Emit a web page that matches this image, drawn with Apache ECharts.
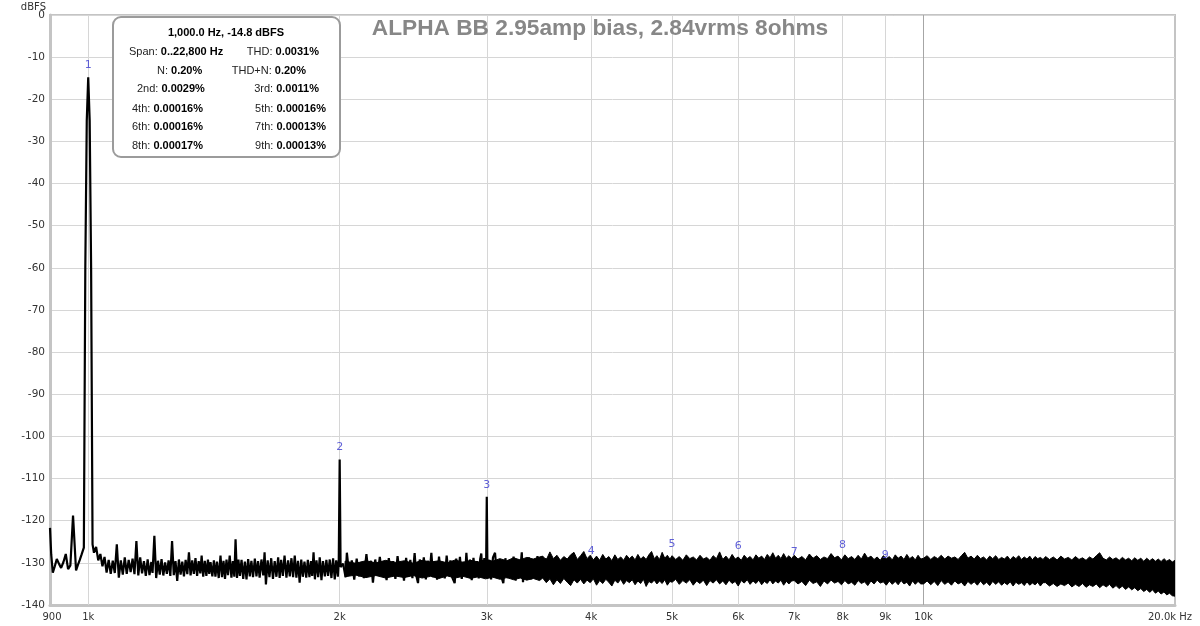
<!DOCTYPE html>
<html><head><meta charset="utf-8">
<script src="https://cdn.jsdelivr.net/npm/echarts@6/dist/echarts.min.js"></script>
<style>html,body{margin:0;padding:0;background:#fff}#c{width:1200px;height:626px}</style>
</head><body><div id="c"></div>
<script>
// ---------- DATA ----------
const chartTitle = 'ALPHA BB 2.95amp bias, 2.84vrms 8ohms';
const yAxisName = 'dBFS';
const xTickHz = [900, 1000, 2000, 3000, 4000, 5000, 6000, 7000, 8000, 9000, 10000, 20000];
const xTickText = ['900', '1k', '2k', '3k', '4k', '5k', '6k', '7k', '8k', '9k', '10k', '20.0k Hz'];

// spectrum line, 900 Hz - 1 kHz peak
const hzA = [900,903,907,912,917,923,928,934,940,946,952,959,967,972,977,982,988,992,996,1000,1004,1008,1012];
const dbA = [-121.7,-128,-132.3,-130.8,-129.1,-130.3,-131.2,-129.8,-127.9,-131.5,-130.6,-118.8,-131.8,-130.5,-129.3,-128.0,-126.4,-60,-25,-14.8,-25,-60,-125.6];
// 1 kHz - 1.4 kHz
const hzB = [
1016,1022,1028,1034,1040,1046,1052,1058,1064,1070,
1076,1082,1088,1094,1100,1106,1112,1118,1124,1130,
1136,1142,1148,1154,1160,1166,1172,1178,1184,1190,
1194,1200,1206,1212,1218,1224,1230,1236,1242,1248,
1254,1260,1266,1272,1278,1284,1290,1296,1302,1308,
1314,1320,1326,1332,1338,1344,1350,1356,1362,1367,
1373,1379,1385,1391,1396,1401];
const dbB = [
-127.6,-126.2,-129.4,-127.9,-130.8,-128.6,-132.3,-129.3,-132.6,-129.5,
-132.4,-125.6,-133.5,-129.4,-132.8,-128.7,-132.6,-129.3,-132.2,-129.0,
-132.7,-124.8,-133.0,-128.7,-132.5,-129.6,-133.1,-129.2,-132.9,-129.8,
-132.4,-123.6,-133.6,-129.5,-132.8,-129.1,-133.0,-129.9,-132.6,-129.4,
-133.1,-124.8,-132.9,-129.6,-134.3,-129.2,-132.8,-129.7,-133.2,-129.3,
-132.7,-127.5,-133.0,-129.4,-132.6,-128.9,-133.1,-129.6,-132.5,-128.3,
-133.3,-129.5,-133.1,-129.2,-132.6,-129.8];
// 1.4 kHz - 2 kHz peak
const hzC = [
1408,1414,1420,1426,1433,1440,1446,1452,1458,1464,
1470,1477,1484,1490,1496,1501,1507,1513,1519,1526,
1533,1540,1547,1554,1561,1568,1575,1583,1590,1597,
1604,1612,1620,1626,1632,1640,1648,1656,1664,1672,
1680,1688,1695,1702,1710,1718,1727,1735,1743,1751,
1759,1767,1775,1783,1791,1799,1807,1815,1824,1832,
1840,1848,1854,1861,1868,1876,1885,1893,1902,1910,
1920,1928,1937,1946,1955,1964,1973,1981,1990,1995,
2000,2005];
const dbC = [
-133.2,-129.4,-133.3,-129.7,-133.6,-128.3,-133.4,-129.5,-133.8,-129.2,
-132.9,-128.3,-133.5,-129.6,-133.3,-124.4,-133.6,-129.2,-133.1,-129.3,
-133.8,-129.7,-133.9,-129.1,-133.2,-129.5,-133.4,-129.0,-133.2,-129.6,
-133.5,-129.2,-133.0,-127.5,-135.1,-129.4,-133.4,-128.9,-133.8,-129.6,
-133.3,-128.7,-133.6,-129.3,-133.1,-128.3,-133.5,-129.4,-133.2,-128.9,
-133.4,-128.3,-133.5,-129.5,-134.7,-129.2,-133.3,-129.7,-133.5,-129.3,
-133.4,-129.6,-133.1,-127.5,-133.9,-129.4,-133.4,-128.7,-134.1,-129.6,
-133.2,-129.3,-133.1,-129.2,-133.6,-128.9,-133.9,-129.4,-133.3,-129.3,
-105.5,-131.0];
// 2 kHz - 3.5 kHz (incl. 3 kHz peak)
const hzD = [
2019,2033,2040,2054,2068,2082,2096,2110,2124,2138,
2153,2166,2180,2192,2206,2220,2234,2248,2262,2276,
2290,2304,2318,2332,2346,2360,2374,2388,2402,2416,
2430,2444,2459,2470,2482,2494,2508,2522,2536,2550,
2562,2575,2588,2602,2616,2630,2644,2658,2672,2686,
2700,2714,2728,2746,2758,2772,2786,2800,2814,2826,
2836,2850,2864,2878,2892,2906,2920,2934,2946,2955,
2966,2980,2994,3000,3006,3020,3036,3052,3069,3086,
3102,3120,3140,3158,3176,3194,3212,3230,3248,3266,
3284,3304,3315,3334,3352,3370,3390,3410,3430,3450,
3470,3490,3510,3530];
const dbD = [
-130.2,-133.4,-127.6,-133.0,-129.4,-134.0,-129.0,-133.2,-129.8,-133.6,
-127.9,-132.8,-129.5,-134.7,-129.2,-133.1,-128.6,-132.9,-129.8,-134.1,
-128.9,-133.0,-129.6,-133.8,-128.4,-132.7,-129.9,-134.2,-128.8,-133.3,
-129.3,-133.6,-127.7,-133.0,-134.8,-129.2,-133.2,-128.7,-133.9,-129.5,
-132.8,-127.6,-133.4,-129.7,-134.0,-128.5,-133.1,-129.9,-133.7,-128.3,
-132.9,-129.4,-133.5,-134.8,-129.0,-133.2,-128.6,-133.8,-129.7,-133.0,
-127.6,-133.4,-129.2,-134.1,-128.8,-133.0,-129.6,-133.7,-129.1,-127.8,
-133.5,-128.9,-132.6,-114.3,-133.2,-129.3,-133.9,-128.7,-127.6,-133.4,
-129.5,-133.0,-134.8,-128.9,-133.6,-129.4,-133.1,-128.5,-134.2,-129.8,
-133.3,-127.5,-134.6,-129.1,-133.5,-128.7,-133.9,-129.6,-133.2,-128.4,
-134.0,-129.3,-133.6,-128.9];

// dense noise band (upper / lower envelope) from 2 kHz to 20 kHz
const bandHz = [
2030,2090,2150,2210,2270,2330,2390,2450,2510,2570,2630,2690,2750,2810,2870,2930,2990,3050,3110,3170,3230,3290,3350,3410,3470,
3500,3535,3570,3605,3640,3675,3710,3745,3780,3815,3850,3885,3920,3955,3990,4025,4060,4095,4130,4165,4200,4235,4270,4305,4340,4375,4410,4445,4480,4515,4550,4585,4620,4655,4690,4725,4760,4795,4830,4865,4900,4935,4970,
5000,5050,5100,5150,5200,5250,5300,5350,5400,5450,5500,5550,5600,5650,5700,5750,5800,5850,5900,5950,6000,6050,6100,6150,6200,6250,6300,6350,6400,6450,6500,6550,6600,6650,6700,6750,6800,6850,6900,6950,
7000,7075,7150,7225,7300,7375,7450,7525,7600,7675,7750,7825,7900,7975,8050,8125,8200,8275,8350,8425,8500,8575,8650,8725,8800,8875,8950,9025,9100,9175,9250,9325,9400,9475,9550,9625,9700,9775,9850,9925,
10000,10100,10200,10300,10400,10500,10600,10700,10800,10900,11000,11100,11200,11300,11400,11500,11600,11700,11800,11900,12000,12100,12200,12300,12400,12500,12600,12700,12800,12900,13000,13100,13200,13300,13400,13500,13600,13700,13800,13900,
14000,14150,14300,14450,14600,14750,14900,15050,15200,15350,15500,15650,15800,15950,16100,16250,16400,16550,16700,16850,17000,17150,17300,17450,17600,17750,17900,18050,18200,18350,18500,18650,18800,18950,19100,19250,19400,19550,19700,19850,20000];
const bandTop = [
-129.6,-130.1,-129.5,-130.0,-129.4,-129.9,-129.5,-130.1,-129.4,-129.8,-129.5,-130.0,-129.3,-129.9,-129.4,-129.8,-129.2,-129.6,-129.0,-129.5,-128.8,-129.3,-128.7,-129.1,-128.6,
-128.4,-129.3,-127.4,-129.0,-128.2,-129.4,-128.5,-129.1,-128.1,-127.5,-129.2,-128.3,-127.3,-129.0,-128.2,-129.3,-128.4,-129.4,-128.0,-129.1,-128.5,-129.5,-128.1,-129.2,-128.6,-129.4,-128.2,-129.0,-128.4,-129.3,-128.0,-129.1,-128.5,-129.2,-128.1,-127.3,-129.0,-128.3,-129.2,-127.5,-128.9,-128.2,-129.1,
-128.3,-129.2,-128.5,-129.4,-128.1,-129.0,-128.6,-129.3,-128.2,-129.1,-128.7,-129.4,-128.3,-129.0,-127.4,-129.2,-128.4,-129.3,-128.0,-129.1,-128.6,-129.4,-128.2,-129.0,-128.5,-129.3,-128.1,-128.9,-128.4,-129.2,-128.0,-128.8,-127.6,-128.9,-128.2,-129.0,-127.8,-128.9,-128.3,-129.0,
-128.2,-129.1,-128.5,-129.3,-127.9,-128.9,-128.3,-129.2,-128.6,-129.0,-127.8,-128.8,-128.4,-129.3,-128.1,-129.0,-128.5,-129.2,-128.2,-129.1,-127.7,-128.9,-128.4,-129.2,-128.6,-129.4,-128.3,-129.0,-128.5,-129.3,-128.1,-128.9,-128.4,-129.2,-128.0,-129.0,-128.5,-129.3,-128.2,-129.1,
-128.9,-128.3,-129.2,-128.5,-129.0,-128.2,-129.1,-128.4,-128.9,-128.6,-129.2,-128.3,-127.5,-128.9,-128.4,-129.1,-128.2,-129.0,-128.6,-129.3,-128.4,-129.0,-128.3,-129.2,-128.7,-129.1,-128.4,-129.3,-128.5,-129.0,-128.3,-129.2,-128.6,-129.1,-128.4,-129.3,-128.5,-129.0,-128.7,-129.2,
-128.5,-129.2,-128.6,-129.3,-128.4,-129.1,-128.7,-129.3,-128.5,-129.2,-128.8,-129.4,-128.6,-129.1,-128.3,-127.6,-128.9,-129.3,-128.6,-129.2,-128.8,-129.4,-128.7,-129.3,-128.9,-129.5,-128.8,-129.4,-128.9,-129.6,-128.9,-129.5,-129.0,-129.6,-129.1,-129.7,-129.0,-129.6,-129.2,-129.8,-129.4];
const bandBottom = [
-133.3,-132.9,-133.5,-133.0,-133.6,-133.1,-133.5,-133.0,-133.6,-133.2,-133.7,-133.1,-133.6,-133.2,-133.7,-133.3,-133.8,-133.4,-133.9,-133.5,-134.0,-133.6,-134.1,-133.7,-134.2,
-133.6,-134.7,-133.8,-135.2,-134.0,-134.9,-133.7,-134.6,-135.4,-134.0,-134.8,-133.9,-135.0,-134.1,-134.7,-133.8,-135.3,-134.2,-134.9,-133.9,-134.6,-135.5,-134.1,-134.8,-133.9,-135.1,-134.2,-134.7,-134.0,-135.2,-134.3,-134.9,-133.9,-135.6,-134.4,-134.8,-134.1,-135.0,-134.3,-134.9,-134.0,-135.3,-134.4,
-134.6,-133.9,-135.1,-134.2,-134.8,-134.0,-135.3,-134.3,-134.9,-134.1,-135.4,-134.2,-134.8,-134.0,-135.0,-134.3,-135.2,-134.1,-134.9,-134.4,-135.5,-134.2,-134.8,-134.0,-135.1,-134.3,-134.9,-134.1,-135.2,-134.4,-134.9,-134.0,-135.0,-134.3,-134.8,-134.1,-135.3,-134.4,-135.0,-134.3,
-134.2,-135.0,-134.4,-135.4,-134.1,-134.9,-134.5,-135.6,-134.3,-135.0,-134.1,-134.8,-134.4,-135.2,-134.2,-135.0,-134.6,-135.3,-134.2,-134.9,-134.5,-135.4,-134.3,-135.0,-134.1,-134.8,-134.5,-135.3,-134.3,-135.1,-134.4,-135.2,-134.2,-135.0,-134.6,-135.5,-134.3,-135.1,-134.4,-135.0,
-135.0,-134.3,-135.2,-134.4,-135.4,-134.2,-135.1,-134.5,-135.3,-134.3,-135.0,-134.6,-135.5,-134.4,-135.1,-134.5,-135.3,-134.3,-135.2,-134.6,-135.4,-134.4,-135.1,-134.5,-135.3,-134.7,-135.2,-134.5,-135.5,-134.6,-135.1,-134.7,-135.4,-134.5,-135.3,-134.8,-135.2,-134.6,-135.5,-134.7,
-134.7,-135.5,-134.9,-135.6,-135.0,-135.4,-134.8,-135.7,-135.1,-135.6,-134.9,-135.8,-135.2,-135.6,-135.0,-135.9,-135.2,-135.7,-135.1,-136.0,-135.4,-136.1,-135.5,-136.3,-135.7,-136.4,-135.9,-136.6,-136.1,-136.8,-136.3,-137.0,-136.4,-137.2,-136.7,-137.4,-136.9,-137.6,-137.2,-137.8,-137.9];

// harmonic markers
const harmonicHz = [1000, 2000, 3000, 4000, 5000, 6000, 7000, 8000, 9000];
const harmonicDb = [-14.8, -105.5, -114.3, -130.0, -128.4, -128.8, -130.2, -128.6, -131.0];
const harmonicLabel = ['1', '2', '3', '4', '5', '6', '7', '8', '9'];

// info box
const boxHeading = '1,000.0 Hz, -14.8 dBFS';
const boxLeftLabels = ['Span:', 'N:', '2nd:', '4th:', '6th:', '8th:'];
const boxLeftValues = ['0..22,800 Hz', '0.20%', '0.0029%', '0.00016%', '0.00016%', '0.00017%'];
const boxRightLabels = ['THD:', 'THD+N:', '3rd:', '5th:', '7th:', '9th:'];
const boxRightValues = ['0.0031%', '0.20%', '0.0011%', '0.00016%', '0.00013%', '0.00013%'];

// ---------- CHART ----------
const pairs = (h, d) => h.map((f, i) => [f, d[i]]);
const spectrum = [].concat(pairs(hzA, dbA), pairs(hzB, dbB), pairs(hzC, dbC), pairs(hzD, dbD));

const gridColor = '#d6d6d6';
const markData = xTickHz.map((f, i) => {
  const item = { xAxis: f, name: xTickText[i] };
  if (i === 0 || i === xTickHz.length - 1) {
    item.lineStyle = { color: 'rgba(0,0,0,0)' };
  } else if (f === 10000) {
    item.lineStyle = { color: '#a6a6a6' };
  }
  if (i === xTickHz.length - 1) item.label = { offset: [-5, 0] };
  if (i === 0) item.label = { offset: [2, 0] };
  return item;
});

const boxRowY = [52, 70.7, 89.3, 108.5, 127, 145.5];
const boxLeftX = [129, 157, 137, 132, 132, 132];
const boxRightX = [319, 306, 319, 326, 326, 326];
const boxFont = 'Liberation Sans';
const rich = {
  n: { fontFamily: boxFont, fontSize: 11, fill: '#222', color: '#222' },
  b: { fontFamily: boxFont, fontSize: 11, fontWeight: 'bold', fill: '#000', color: '#000' }
};
const graphic = [
  { type: 'text', x: 46, y: 7.5, z: 51,
    style: { text: yAxisName, font: '10px "DejaVu Sans"', fill: '#333', textAlign: 'right', textVerticalAlign: 'middle' } },
  { type: 'rect', x: 113, y: 17, z: 50, shape: { x: 0, y: 0, width: 227, height: 140, r: 8 },
    style: { fill: '#fff', stroke: '#9b9b9b', lineWidth: 2 } },
  { type: 'text', x: 226, y: 33, z: 51,
    style: { text: boxHeading, font: 'bold 11px "Liberation Sans"', fill: '#000', textAlign: 'center', textVerticalAlign: 'middle' } }
];
boxRowY.forEach((y, i) => {
  graphic.push({ type: 'text', x: boxLeftX[i], y: y, z: 51,
    style: { text: '{n|' + boxLeftLabels[i] + ' }{b|' + boxLeftValues[i] + '}', rich: rich, textAlign: 'left', textVerticalAlign: 'middle' } });
  graphic.push({ type: 'text', x: boxRightX[i], y: y, z: 51,
    style: { text: '{n|' + boxRightLabels[i] + ' }{b|' + boxRightValues[i] + '}', rich: rich, textAlign: 'right', textVerticalAlign: 'middle' } });
});

const chart = echarts.init(document.getElementById('c'), null, { renderer: 'canvas' });
chart.setOption({
  animation: false,
  backgroundColor: '#fff',
  title: {
    text: chartTitle, left: 'center', top: 17, padding: 0,
    textStyle: { fontSize: 22.7, fontWeight: 'bold', color: '#878787', fontFamily: 'Liberation Sans' }
  },
  grid: { left: 50, right: 25, top: 15, bottom: 21, show: true, borderColor: '#c4c4c4', borderWidth: 2, backgroundColor: '#fff' },
  xAxis: {
    type: 'log', logBase: 10, min: 900, max: 20000,
    axisLabel: { show: false }, axisTick: { show: false }, splitLine: { show: false },
    axisLine: { show: true, onZero: false, lineStyle: { color: '#c4c4c4', width: 3 } }
  },
  yAxis: {
    type: 'value', min: -140, max: 0, interval: 10,
    axisLabel: { color: '#333', fontSize: 10.5, fontFamily: 'DejaVu Sans', margin: 5 },
    axisTick: { show: false },
    axisLine: { show: true, onZero: false, lineStyle: { color: '#c4c4c4', width: 3 } },
    splitLine: { show: true, lineStyle: { color: gridColor, width: 1 } }
  },
  series: [
    {
      type: 'custom', coordinateSystem: 'cartesian2d', z: 3, silent: true, clip: true,
      data: [[bandHz[0], bandTop[0]]],
      renderItem: function (params, api) {
        const pts = [];
        for (let i = 0; i < bandHz.length; i++) pts.push(api.coord([bandHz[i], bandTop[i]]));
        for (let i = bandHz.length - 1; i >= 0; i--) pts.push(api.coord([bandHz[i], bandBottom[i]]));
        return { type: 'polygon', shape: { points: pts }, style: { fill: '#000', stroke: '#000', lineWidth: 1 } };
      }
    },
    {
      type: 'line', name: 'spectrum', data: spectrum, symbol: 'none', z: 4, clip: true, silent: true,
      lineStyle: { color: '#000', width: 2.2 },
      markLine: {
        silent: true, z: 1, symbol: ['none', 'none'], animation: false,
        lineStyle: { type: 'solid', color: gridColor, width: 1 },
        label: { show: true, position: 'start', formatter: '{b}', color: '#333', fontSize: 10, fontFamily: 'DejaVu Sans', distance: 7 },
        emphasis: { disabled: true },
        data: markData
      }
    },
    {
      type: 'scatter', z: 5, silent: true, symbolSize: 1, itemStyle: { color: 'rgba(0,0,0,0)' },
      data: harmonicHz.map((f, i) => ({ value: [f, harmonicDb[i]], name: harmonicLabel[i] })),
      label: { show: true, position: 'top', distance: 6, formatter: '{b}', color: '#3b3bcf', fontSize: 11, fontFamily: 'DejaVu Sans' }
    }
  ],
  graphic: graphic
});
</script>
</body></html>
